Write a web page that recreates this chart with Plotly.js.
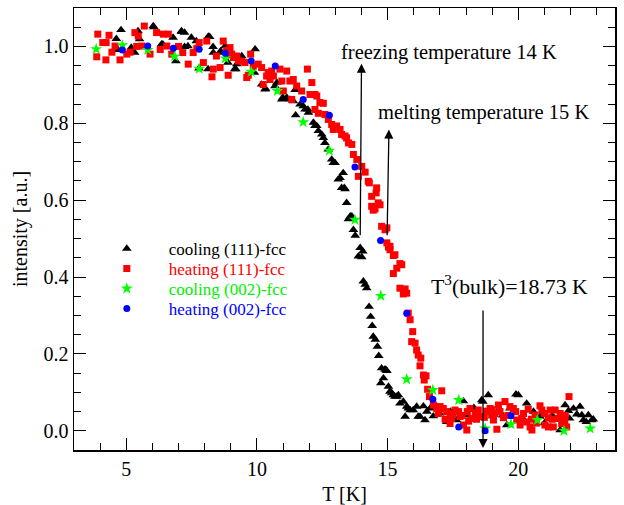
<!DOCTYPE html>
<html>
<head>
<meta charset="utf-8">
<script src="https://cdn.plot.ly/plotly-3.0.1.min.js"></script>
<style>html,body{margin:0;padding:0;background:#fff;}#chart{width:624px;height:505px;}</style>
</head>
<body>
<div id="chart"></div>
<script>
// cooling (111)-fcc : black triangles
var coolT111 = [4.62,4.69,4.80,5.19,5.32,5.45,5.51,6.03,6.06,6.35,6.40,6.79,6.90,7.11,7.12,7.23,7.23,7.36,7.49,7.68,7.78,8.13,8.14,8.19,8.32,8.33,8.59,8.61,8.78,8.89,8.97,9.15,9.19,9.23,9.42,9.90,9.93,10.18,10.31,10.33,10.69,10.76,10.95,10.99,11.14,11.26,11.39,11.46,11.48,11.65,11.77,11.84,11.95,11.97,12.16,12.22,12.29,12.35,12.48,12.54,12.60,12.73,12.86,12.92,12.99,13.11,13.18,13.24,13.30,13.34,13.37,13.43,13.50,13.57,13.63,13.69,13.76,13.88,13.95,14.01,14.05,14.07,14.14,14.20,14.29,14.35,14.41,14.45,14.53,14.61,14.66,14.74,14.77,14.84,14.90,14.94,14.97,15.03,15.09,15.16,15.22,15.28,15.35,15.41,15.47,15.60,15.67,15.73,15.79,15.86,15.98,16.11,16.17,16.24,16.37,16.43,16.50,16.62,16.75,16.88,17.00,17.26,17.40,17.64,17.90,18.00,18.30,18.60,18.64,18.85,19.20,19.40,19.56,19.68,19.91,20.00,20.20,20.32,20.58,20.83,21.00,21.30,21.60,21.79,21.92,21.96,22.11,22.24,22.36,22.43,22.49,22.60,22.68,22.81,22.87];
var coolI111 = [1.020,0.991,1.043,0.997,0.984,1.040,1.019,1.053,1.050,1.006,1.006,1.023,0.962,1.040,1.038,1.036,0.999,1.001,1.023,1.014,0.943,0.941,1.026,1.025,0.999,0.984,0.984,0.988,1.001,0.958,0.975,0.941,0.941,0.954,0.975,0.932,0.993,0.901,0.888,0.890,0.897,0.906,0.862,0.867,0.867,0.862,0.858,0.887,0.821,0.849,0.845,0.836,0.836,0.828,0.802,0.793,0.793,0.780,0.771,0.762,0.749,0.732,0.706,0.697,0.697,0.654,0.658,0.632,0.671,0.632,0.629,0.593,0.551,0.558,0.558,0.523,0.508,0.454,0.476,0.452,0.467,0.389,0.380,0.371,0.323,0.297,0.273,0.245,0.237,0.219,0.195,0.124,0.163,0.137,0.160,0.158,0.156,0.115,0.102,0.098,0.093,0.089,0.089,0.093,0.071,0.076,0.037,0.063,0.058,0.054,0.054,0.063,0.037,0.037,0.064,0.028,0.050,0.058,0.038,0.063,0.045,0.023,0.050,0.028,0.077,0.040,0.060,0.080,0.076,0.093,0.050,0.040,0.015,0.058,0.095,0.093,0.030,0.071,0.050,0.037,0.020,0.040,0.002,0.067,0.052,0.032,0.058,0.043,0.063,0.041,0.028,0.023,0.041,0.028,0.030];

// heating (111)-fcc : red squares
var heatT111 = [3.87,3.91,4.10,4.22,4.23,4.34,4.45,4.57,4.76,5.02,5.15,5.33,5.40,5.46,5.59,5.69,5.91,6.16,6.30,6.42,6.55,6.61,6.74,7.00,7.16,7.37,7.56,7.70,7.79,7.95,8.08,8.28,8.33,8.45,8.59,8.71,8.84,8.90,8.97,9.03,9.10,9.23,9.29,9.42,9.54,9.61,9.67,9.76,9.86,10.05,10.18,10.24,10.37,10.43,10.50,10.56,10.63,10.88,10.95,11.01,11.14,11.26,11.33,11.39,11.52,11.71,11.93,12.03,12.10,12.22,12.22,12.29,12.35,12.41,12.54,12.60,12.73,12.86,12.92,13.05,13.18,13.24,13.37,13.43,13.50,13.63,13.69,13.82,13.88,14.01,14.14,14.26,14.30,14.39,14.39,14.45,14.52,14.56,14.58,14.64,14.71,14.77,14.90,14.97,14.97,15.03,15.09,15.09,15.22,15.28,15.22,15.35,15.47,15.54,15.47,15.60,15.67,15.73,15.79,15.86,15.96,15.92,16.05,16.11,16.17,16.27,16.24,16.37,16.47,16.40,16.53,16.60,16.75,16.88,16.94,17.01,17.07,17.13,17.20,17.26,17.39,17.39,17.45,17.50,17.58,17.71,17.77,17.85,17.90,18.03,18.05,18.10,18.15,18.22,18.35,18.40,18.47,18.54,18.70,18.79,18.92,18.98,19.00,19.05,19.11,19.18,19.24,19.30,19.43,19.49,19.60,19.68,19.81,19.90,19.94,20.07,20.13,20.20,20.32,20.38,20.45,20.50,20.52,20.64,20.70,20.83,20.90,21.00,21.02,21.15,21.15,21.22,21.30,21.34,21.41,21.53,21.60,21.66,21.72,21.78,21.80,21.85,21.94];
var heatI111 = [0.973,1.032,1.010,0.965,1.010,1.029,0.985,1.001,0.965,0.980,0.985,1.036,1.000,1.027,1.001,1.053,0.980,1.036,0.992,1.032,1.001,1.032,0.980,1.000,0.984,0.954,0.984,0.995,1.010,0.958,1.014,0.921,0.941,0.975,0.945,1.014,0.990,0.925,0.997,0.980,0.971,0.975,0.962,0.962,0.958,0.919,0.925,0.980,0.949,0.954,0.945,0.901,0.923,0.932,0.914,0.936,0.923,0.941,0.910,0.884,0.936,0.910,0.862,0.914,0.897,0.884,0.941,0.875,0.906,0.875,0.836,0.871,0.826,0.854,0.852,0.823,0.810,0.797,0.784,0.793,0.784,0.771,0.767,0.762,0.749,0.745,0.719,0.706,0.662,0.688,0.673,0.649,0.645,0.610,0.584,0.574,0.577,0.619,0.632,0.593,0.588,0.532,0.523,0.528,0.489,0.478,0.480,0.471,0.456,0.458,0.409,0.423,0.435,0.432,0.371,0.356,0.369,0.358,0.306,0.289,0.258,0.232,0.228,0.210,0.197,0.189,0.169,0.145,0.143,0.132,0.108,0.089,0.067,0.058,0.045,0.063,0.104,0.058,0.030,0.050,0.041,0.019,0.032,0.045,0.054,0.050,0.037,0.040,0.015,0.002,0.050,0.025,0.058,0.032,0.045,0.030,0.054,0.037,0.035,0.051,0.058,0.041,0.055,0.028,0.045,0.004,0.067,0.050,0.034,0.076,0.040,0.063,0.058,0.050,0.028,0.015,0.032,0.045,0.023,0.056,0.010,0.030,0.002,0.041,0.020,0.065,0.054,0.045,0.015,0.034,0.010,0.054,0.030,0.010,0.054,0.032,0.045,0.019,0.037,0.023,0.040,0.010,0.089];

// cooling (002)-fcc : green stars
var coolT002 = [3.85,4.85,5.82,6.85,7.79,8.79,9.78,10.78,11.77,12.77,13.75,14.74,15.73,16.73,17.72,18.73,19.72,20.73,21.75,22.75];
var coolI002 = [0.993,1.003,0.991,0.974,0.942,0.969,0.934,0.884,0.803,0.729,0.549,0.351,0.134,0.106,0.080,0.006,0.017,0.028,0.000,0.006];

// heating (002)-fcc : blue circles
var heatT002 = [4.85,5.82,6.80,7.79,8.79,9.78,10.70,11.77,12.77,13.75,14.73,15.73,16.73,17.72,18.73,19.72];
var heatI002 = [0.991,1.001,0.995,0.993,0.982,0.962,0.949,0.862,0.821,0.686,0.495,0.306,0.082,0.010,0.000,0.039];

var seriesNames = ['cooling (111)-fcc','heating (111)-fcc','cooling (002)-fcc','heating (002)-fcc'];
var seriesColors = ['#000000','#ff0000','#00ee00','#0000ff'];
var legendIds = ['legend','legend2','legend3','legend4'];

var FONT = 'Liberation Serif, Times New Roman, serif';

var traces = [
  {x: coolT111, y: coolI111, type:'scatter', mode:'markers', name: seriesNames[0], legend: legendIds[0],
   marker:{symbol:'triangle-up', size:8.5, color:'#000000'}},
  {x: heatT111, y: heatI111, type:'scatter', mode:'markers', name: seriesNames[1], legend: legendIds[1],
   marker:{symbol:'square', size:7, color:'#ff0000'}},
  {x: coolT002, y: coolI002, type:'scatter', mode:'markers', name: seriesNames[2], legend: legendIds[2],
   marker:{symbol:'star', size:9, color:'#00ff00'}},
  {x: heatT002, y: heatI002, type:'scatter', mode:'markers', name: seriesNames[3], legend: legendIds[3],
   marker:{symbol:'circle', size:7, color:'#0000ff'}}
];

var arrowCommon = {showarrow:true, text:'', axref:'x', ayref:'y', arrowhead:2, arrowsize:1.4, arrowwidth:1.3, arrowcolor:'#000', standoff:0, startstandoff:0};

var layout = {
  width:624, height:505,
  margin:{l:74, r:9, t:8, b:55},
  paper_bgcolor:'#fff', plot_bgcolor:'#fff',
  font:{family:FONT, size:20, color:'#000'},
  showlegend:true,
  xaxis:{range:[3.0,23.7], tick0:5, dtick:5, ticks:'inside', ticklen:12, tickwidth:1, tickcolor:'#000',
         showline:true, linewidth:1.5, linecolor:'#000', mirror:'allticks', showgrid:false, zeroline:false,
         tickfont:{family:FONT, size:20}, minor:{dtick:1, ticks:'inside', ticklen:7, tickwidth:1, tickcolor:'#000', showgrid:false},
         title:{text:'T [K]', font:{family:FONT, size:20}, standoff:9}},
  yaxis:{range:[-0.05,1.10], tick0:0, dtick:0.2, tickformat:'.1f', ticks:'inside', ticklen:12, tickwidth:1, tickcolor:'#000',
         showline:true, linewidth:1.5, linecolor:'#000', mirror:'allticks', showgrid:false, zeroline:false,
         tickfont:{family:FONT, size:20}, minor:{dtick:0.05, ticks:'inside', ticklen:7, tickwidth:1, tickcolor:'#000', showgrid:false},
         title:{text:'intensity [a.u.]', font:{family:FONT, size:20}, standoff:10}},
  annotations:[
    Object.assign({x:14.0, y:0.955, ax:13.95, ay:0.505}, arrowCommon),
    Object.assign({x:15.05, y:0.784, ax:14.98, ay:0.505}, arrowCommon),
    Object.assign({x:18.65, y:-0.045, ax:18.65, ay:0.317}, arrowCommon),
    {x:13.14, y:0.985, xref:'x', yref:'y', xanchor:'left', yanchor:'middle', showarrow:false,
     text:'freezing temperature 14 K', font:{family:FONT, size:20.5}},
    {x:14.56, y:0.827, xref:'x', yref:'y', xanchor:'left', yanchor:'middle', showarrow:false,
     text:'melting temperature 15 K', font:{family:FONT, size:20.5}},
    {x:16.57, y:0.380, xref:'x', yref:'y', xanchor:'left', yanchor:'middle', showarrow:false,
     text:'T<sup>3</sup>(bulk)=18.73 K', font:{family:FONT, size:21.8}}
  ]
};

// one single-item legend per series, stacked like the reference key
var legendRowsY = [0.4548, 0.4095, 0.3643, 0.3190];
for (var i = 0; i < 4; i++) {
  layout[legendIds[i]] = {x:0.020, y:legendRowsY[i], xanchor:'left', yanchor:'middle',
    bgcolor:'rgba(0,0,0,0)', borderwidth:0, itemwidth:74,
    font:{family:FONT, size:17, color:seriesColors[i]}};
}

Plotly.newPlot('chart', traces, layout, {displayModeBar:false, staticPlot:true});
</script>
</body>
</html>
